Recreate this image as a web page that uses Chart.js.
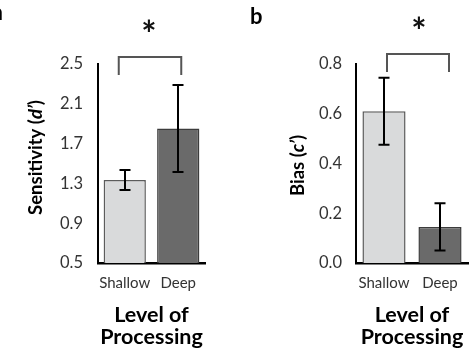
<!DOCTYPE html>
<html><head><meta charset="utf-8">
<script src="https://cdn.jsdelivr.net/npm/chart.js@4/dist/chart.umd.min.js"></script>
<style>
html,body{margin:0;padding:0;background:#fff;width:475px;height:350px;overflow:hidden}
canvas{position:absolute;top:0}
#ca{left:0}
#cb{left:235px}
</style></head><body>
<canvas id="ca" width="235" height="350"></canvas>
<canvas id="cb" width="240" height="350"></canvas>
<script>
const categories = ['Shallow', 'Deep'];
const sensitivity = [1.334, 1.852];
const sensitivityErr = [0.10, 0.437];
const sensitivityTicks = [0.5, 0.9, 1.3, 1.7, 2.1, 2.5];
const bias = [0.61, 0.145];
const biasErr = [0.135, 0.095];
const biasTicks = [0.0, 0.2, 0.4, 0.6, 0.8];
const xTitle = ['Level of', 'Processing'];
const yTitleA = [['Sensitivity (', false], ['d\u2019', true], [')', false]];
const yTitleB = [['Bias (', false], ['c\u2019', true], [')', false]];

const FONT = 'Lato, "Open Sans", sans-serif';
const fills = ['#d9dadb', '#6a6a6a'];
const borders = ['#5c5c5c', '#3c3c3c'];

const annot = {
  id: 'annot',
  afterDatasetsDraw(chart, args, o) {
    const ctx = chart.ctx, ca = chart.chartArea, ys = chart.scales.y;
    const meta = chart.getDatasetMeta(0);
    ctx.save();
    // error bars
    ctx.strokeStyle = '#000'; ctx.lineWidth = 2;
    meta.data.forEach((bar, i) => {
      const v = o.values[i], e = o.errors[i];
      const x = Math.round(bar.x);
      const y1 = ys.getPixelForValue(v + e), y2 = ys.getPixelForValue(v - e);
      ctx.beginPath();
      ctx.moveTo(x, y1); ctx.lineTo(x, y2);
      ctx.moveTo(x - o.cap, y1); ctx.lineTo(x + o.cap, y1);
      ctx.moveTo(x - o.cap, y2); ctx.lineTo(x + o.cap, y2);
      ctx.stroke();
    });
    // bracket
    const b = o.bracket;
    const x1 = meta.data[0].x + b.dx1, x2 = meta.data[1].x + b.dx2;
    const yt = ca.top + b.top, yb = ca.top + b.bottom;
    ctx.strokeStyle = '#555'; ctx.lineWidth = 2;
    ctx.beginPath();
    ctx.moveTo(x1, yb); ctx.lineTo(x1, yt); ctx.lineTo(x2, yt); ctx.lineTo(x2, yb);
    ctx.stroke();
    // star
    ctx.fillStyle = '#111';
    ctx.font = 'bold 36px ' + FONT;
    ctx.textAlign = 'center'; ctx.textBaseline = 'middle';
    ctx.fillText('*', (x1 + x2) / 2 + b.starDx, yt + b.starDy);
    // y title (rich)
    const t = o.ytitle;
    ctx.save();
    ctx.translate(ca.left + t.dx, (ca.top + ca.bottom) / 2 + t.dy);
    ctx.rotate(-Math.PI / 2);
    ctx.textAlign = 'left'; ctx.textBaseline = 'middle';
    ctx.fillStyle = '#000';
    let total = 0;
    const fontFor = it => (it ? 'italic bold ' : 'bold ') + t.size + 'px ' + FONT;
    t.parts.forEach(p => { ctx.font = fontFor(p[1]); total += ctx.measureText(p[0]).width; });
    let xx = -total / 2;
    t.parts.forEach(p => { ctx.font = fontFor(p[1]); ctx.fillText(p[0], xx, 0); xx += ctx.measureText(p[0]).width; });
    ctx.restore();
    // panel letter
    ctx.font = 'bold 22px ' + FONT;
    ctx.textAlign = o.letter.align; ctx.textBaseline = 'alphabetic';
    ctx.fillStyle = '#000';
    ctx.fillText(o.letter.text, o.letter.x, o.letter.y);
    ctx.restore();
  }
};

function makeChart(id, values, errors, ticks, cfg) {
  return new Chart(document.getElementById(id), {
    type: 'bar',
    data: {
      labels: categories,
      datasets: [{
        data: values,
        backgroundColor: fills,
        borderColor: borders,
        borderWidth: 1.5,
        categoryPercentage: 1,
        barPercentage: cfg.barPct
      }]
    },
    options: {
      responsive: false,
      animation: false,
      layout: { padding: { left: 0, right: cfg.padRight, top: 64, bottom: 0 } },
      plugins: {
        legend: { display: false },
        tooltip: { enabled: false },
        annot: {
          values: values, errors: errors, cap: 5.5,
          bracket: cfg.bracket, ytitle: cfg.ytitle, letter: cfg.letter
        }
      },
      scales: {
        x: {
          grid: { display: false, drawTicks: false },
          border: { display: true, color: '#000', width: 2.5 },
          ticks: { color: '#333', font: { family: FONT, size: 15 }, padding: 11,
                   maxRotation: 0, minRotation: 0, autoSkip: false },
          title: { display: true, text: xTitle, color: '#000',
                   font: { family: FONT, size: 21.5, weight: 'bold', lineHeight: 1.02 },
                   padding: { top: 0, bottom: 2 } },
          afterFit: s => { s.height = 350 - 263; }
        },
        y: {
          min: ticks[0], max: ticks[ticks.length - 1],
          grid: { display: false, drawTicks: false },
          border: { display: true, color: '#000', width: 2 },
          ticks: { color: '#333', font: { family: FONT, size: 16.5 }, padding: cfg.tickPad,
                   callback: v => Number(v).toFixed(1) },
          afterBuildTicks: s => { s.ticks = ticks.map(v => ({ value: v })); },
          afterFit: s => { s.width = cfg.yWidth; }
        }
      }
    },
    plugins: [annot]
  });
}

makeChart('ca', sensitivity, sensitivityErr, sensitivityTicks, {
  barPct: 0.79, padRight: 30, yWidth: 98, tickPad: 15,
  bracket: { dx1: -6, dx2: 3, top: -7, bottom: 11, starDx: -1, starDy: -22 },
  ytitle: { parts: yTitleA, size: 18.5, dx: -62, dy: -6 },
  letter: { text: 'a', x: 3, y: 20, align: 'right' }
});
makeChart('cb', bias, biasErr, biasTicks, {
  barPct: 0.77, padRight: 7, yWidth: 121, tickPad: 14,
  bracket: { dx1: 3, dx2: 9, top: -10, bottom: 8, starDx: 1, starDy: -22 },
  ytitle: { parts: yTitleB, size: 18.5, dx: -58, dy: 2 },
  letter: { text: 'b', x: 15, y: 24, align: 'left' }
});
</script>
</body></html>
